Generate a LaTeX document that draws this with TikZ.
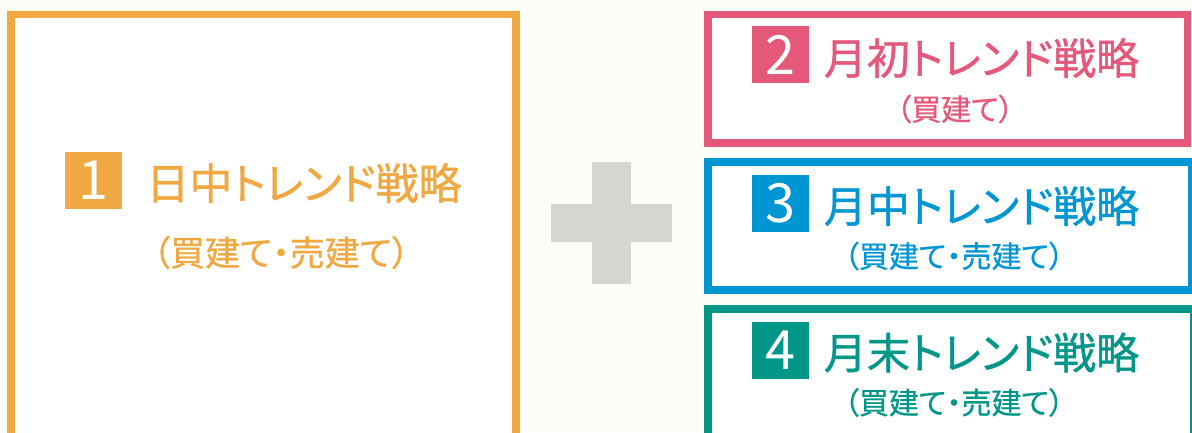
\documentclass[tikz,border=0pt]{standalone}
\usepackage{fontspec}
\setmainfont{Noto Sans CJK JP}
\newfontfamily\jpt{Noto Sans CJK JP}[RawFeature=+palt, FakeBold=1.0]
\newfontfamily\jps{Noto Sans CJK JP}[RawFeature=+palt, FakeBold=0.6]
\definecolor{bgc}{HTML}{FDFDF7}
\definecolor{orangec}{HTML}{F0A842}
\definecolor{pinkc}{HTML}{E5587A}
\definecolor{bluec}{HTML}{0096D3}
\definecolor{greenc}{HTML}{009688}
\definecolor{plusc}{HTML}{D5D6D1}
\tikzset{
  panel/.style={draw, line width=7.5pt, fill=white, rectangle, inner sep=0pt},
  numbox/.style={rectangle, inner sep=0pt, minimum width=57pt, minimum height=57pt,
    text=white, font=\fontsize{54}{54}\selectfont},
  ttl/.style={inner sep=0pt, font=\jpt\fontsize{43}{43}\selectfont},
  sub/.style={inner sep=0pt, font=\jps\fontsize{30}{30}\selectfont},
  subbig/.style={inner sep=0pt, font=\jps\fontsize{35}{35}\selectfont},
}
\begin{document}
\begin{tikzpicture}[x=1pt,y=-1pt]
\useasboundingbox (0,0) rectangle (1192,432);
\fill[bgc] (0,0) rectangle (1192,432);
\clip (0,0) rectangle (1192,432);
% panels
\node[panel, draw=orangec, minimum width=505pt, minimum height=445.5pt] (p1) at (263.5,237.25) {};
\node[panel, draw=pinkc, minimum width=479.5pt, minimum height=128.5pt] (p2) at (947.75,78.75) {};
\node[panel, draw=bluec, minimum width=484pt, minimum height=128pt] (p3) at (950,226) {};
\node[panel, draw=greenc, minimum width=485.5pt, minimum height=141pt] (p4) at (950.75,379.5) {};
% plus
\fill[plusc] (592,162) rectangle (631,284);
\fill[plusc] (551,204) rectangle (672,242);
% panel 1
\node[numbox, fill=orangec] (n1) at (93.5,180.5) {1};
\node[ttl, text=orangec] (t1) at (304,183) {日中トレンド戦略};
\node[subbig, text=orangec] (s1) at (281,252.5) {（買建て・売建て）};
% panel 2
\node[numbox, fill=pinkc] (n2) at (780.5,54.5) {2};
\node[ttl, text=pinkc] (t2) at (981.5,58) {月初トレンド戦略};
\node[sub, text=pinkc] (s2) at (955,109) {（買建て）};
% panel 3
\node[numbox, fill=bluec] (n3) at (780.5,203.5) {3};
\node[ttl, text=bluec] (t3) at (981.5,206) {月中トレンド戦略};
\node[sub, text=bluec] (s3) at (954,256) {（買建て・売建て）};
% panel 4
\node[numbox, fill=greenc] (n4) at (780.5,350.5) {4};
\node[ttl, text=greenc] (t4) at (981.5,352.5) {月末トレンド戦略};
\node[sub, text=greenc] (s4) at (954,402.5) {（買建て・売建て）};
\end{tikzpicture}
\end{document}
